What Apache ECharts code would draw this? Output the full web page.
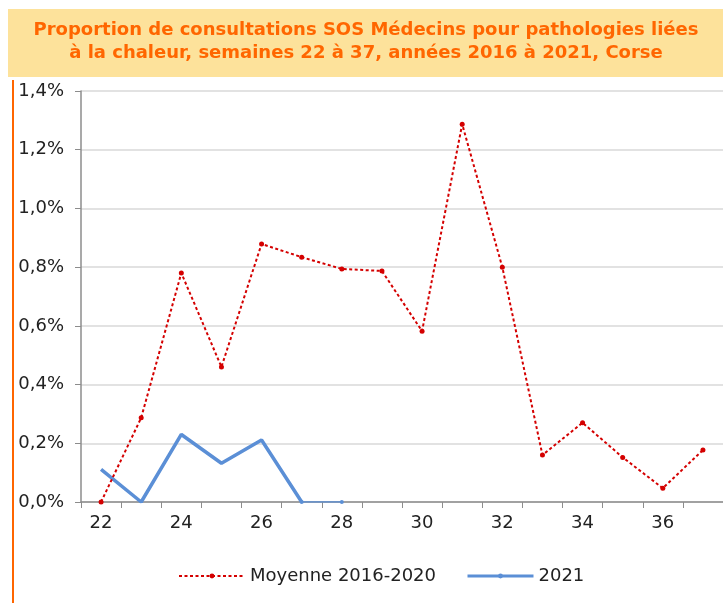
<!DOCTYPE html>
<html>
<head>
<meta charset="utf-8">
<script src="https://cdn.jsdelivr.net/npm/echarts@6/dist/echarts.min.js"></script>
<style>
html,body{margin:0;padding:0;background:#fff;}
#main{width:723px;height:603px;}
</style>
</head>
<body>
<div id="main"></div>
<script>
var semaines=['22','23','24','25','26','27','28','29','30','31','32','33','34','35','36','37'];
var moyenne=[0.0,0.287,0.78,0.46,0.879,0.834,0.794,0.787,0.582,1.287,0.80,0.16,0.27,0.152,0.047,0.177];
var annee2021=[0.111,0.0,0.23,0.132,0.211,0.0,0.0];

var myChart=echarts.init(document.getElementById('main'));

// segment 27-28 plus fin dans l'original
var fin2021=annee2021.map(function(v,i){return i>=annee2021.length-2?v:null;});
var debut2021=annee2021.slice(0,annee2021.length-1);

var option={
  animation:false,
  textStyle:{fontFamily:'DejaVu Sans, sans-serif'},
  graphic:[
    {type:'rect',left:8,top:9,shape:{width:715,height:68},style:{fill:'#FDE29B'},z:0},
    {type:'line',shape:{x1:13,y1:80,x2:13,y2:603},style:{stroke:'#FF6600',lineWidth:2}},
    {type:'text',x:366,y:19,style:{
      text:'Proportion de consultations SOS Médecins pour pathologies liées\nà la chaleur, semaines 22 à 37, années 2016 à 2021, Corse',
      fill:'#FF6600',font:'bold 18px DejaVu Sans, sans-serif',align:'center',verticalAlign:'top',lineHeight:23},z:2}
  ],
  grid:{left:81,right:-6,top:91,bottom:101,containLabel:false},
  legend:{
    left:173,top:562,itemWidth:66,itemHeight:6,itemGap:30,
    textStyle:{fontSize:18,color:'#222'},
    data:['Moyenne 2016-2020',{name:'2021',lineStyle:{width:3}}]
  },
  xAxis:{
    type:'category',boundaryGap:true,data:semaines,
    axisLine:{lineStyle:{color:'#8c8c8c',width:1.5}},
    axisTick:{show:true,interval:0,length:6,lineStyle:{color:'#8c8c8c'}},
    axisLabel:{interval:1,fontSize:18,color:'#222',margin:12}
  },
  yAxis:{
    type:'value',min:0,max:1.4,interval:0.2,
    axisLine:{show:true,lineStyle:{color:'#8c8c8c',width:1.5}},
    axisTick:{show:true,length:6,lineStyle:{color:'#8c8c8c'}},
    splitLine:{lineStyle:{color:'#d9d9d9',width:1.5}},
    axisLabel:{fontSize:18,color:'#222',margin:17,formatter:function(v){
      return v.toFixed(1).replace('.',',')+'%';}}
  },
  series:[
    {name:'Moyenne 2016-2020',type:'line',data:moyenne,symbol:'circle',symbolSize:5,
     lineStyle:{color:'#D40000',width:2,type:[3,2.5]},itemStyle:{color:'#D40000'},z:3},
    {name:'2021',type:'line',data:debut2021,symbol:'circle',symbolSize:3,showSymbol:false,
     lineStyle:{color:'#5B8FD6',width:3.5},itemStyle:{color:'#5B8FD6'},z:2},
    {name:'2021',type:'line',data:fin2021,symbol:'circle',symbolSize:4,
     lineStyle:{color:'#5B8FD6',width:1.5},itemStyle:{color:'#5B8FD6'},z:2}
  ]
};

myChart.setOption(option);
</script>
</body>
</html>
